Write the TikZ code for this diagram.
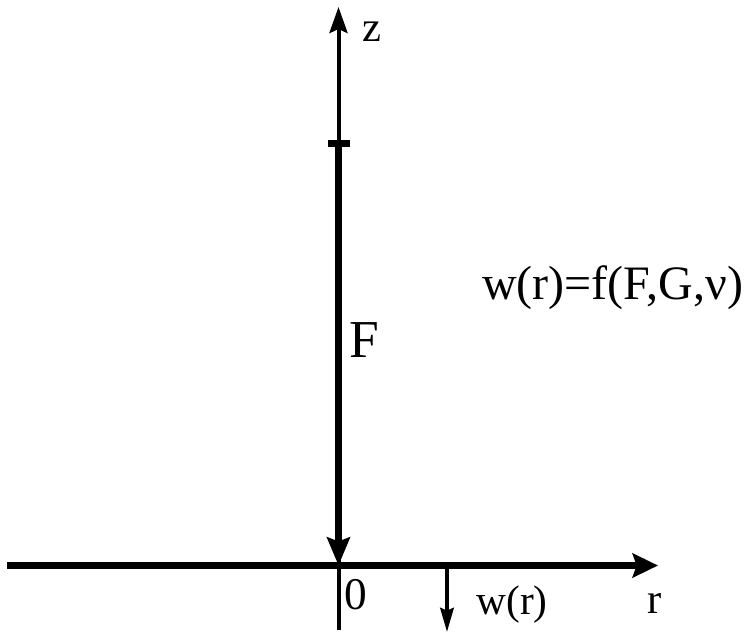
\documentclass[tikz,border=0pt]{standalone}
\usepackage{fontspec}
\setmainfont{Liberation Serif}
\usetikzlibrary{arrows.meta}
\tikzset{
	axisline/.style ={line width=3pt, -{Stealth[length=19.5pt, width=13.5pt, inset=3pt]}},
	raxis/.style    ={line width=4.6pt, -{Stealth[length=19pt, width=18pt, inset=3pt]}},
	force/.style    ={line width=4.9pt, -{Stealth[length=21pt, width=17pt, inset=3pt]}},
	defl/.style     ={line width=3pt, -{Stealth[length=18pt, width=10pt, inset=2pt]}},
	tick/.style     ={line width=5pt},
	lbl/.style      ={inner sep=0pt},
}
\newcommand{\fs}[1]{\fontsize{#1pt}{#1pt}\selectfont}
\begin{document}
\begin{tikzpicture}[x=0.75pt, y=-0.75pt]
	\useasboundingbox (0,0) rectangle (751,632);
	% ---- points ----
	\coordinate (O) at (338.5,565.5);
	\coordinate (zbot) at (338.5,630);
	\coordinate (ztop) at (338.5,7);
	\coordinate (Ftop) at (338.5,143.5);
	\coordinate (rleft) at (7,565.5);
	\coordinate (rright) at (658,565.5);
	\coordinate (wtop) at (447,565.5);
	\coordinate (wbot) at (447,632);
	% ---- axes ----
	\draw[axisline] (zbot) -- (ztop);
	\draw[raxis] (rleft) -- (rright);
	\draw[tick] ([xshift=-8.25pt]Ftop) -- ([xshift=8.25pt]Ftop);
	\draw[force] (Ftop) -- (O);
	\draw[defl] (wtop) -- (wbot);
	% ---- labels ----
	\node[lbl] (zlab) at (372,32) {\fs{32}z};
	\node[lbl] (Flab) at (364,340) {\fs{40}F};
	\node[lbl, anchor=base west] (wfun) at (482,299) {\fs{36}w(r)=f(F,G,ν)};
	\node[lbl] (olab) at (356,595) {\fs{34}0};
	\node[lbl] (wlab) at (512,605) {\fs{31}w(r)};
	\node[lbl] (rlab) at (655,603) {\fs{32}r};
\end{tikzpicture}
\end{document}
